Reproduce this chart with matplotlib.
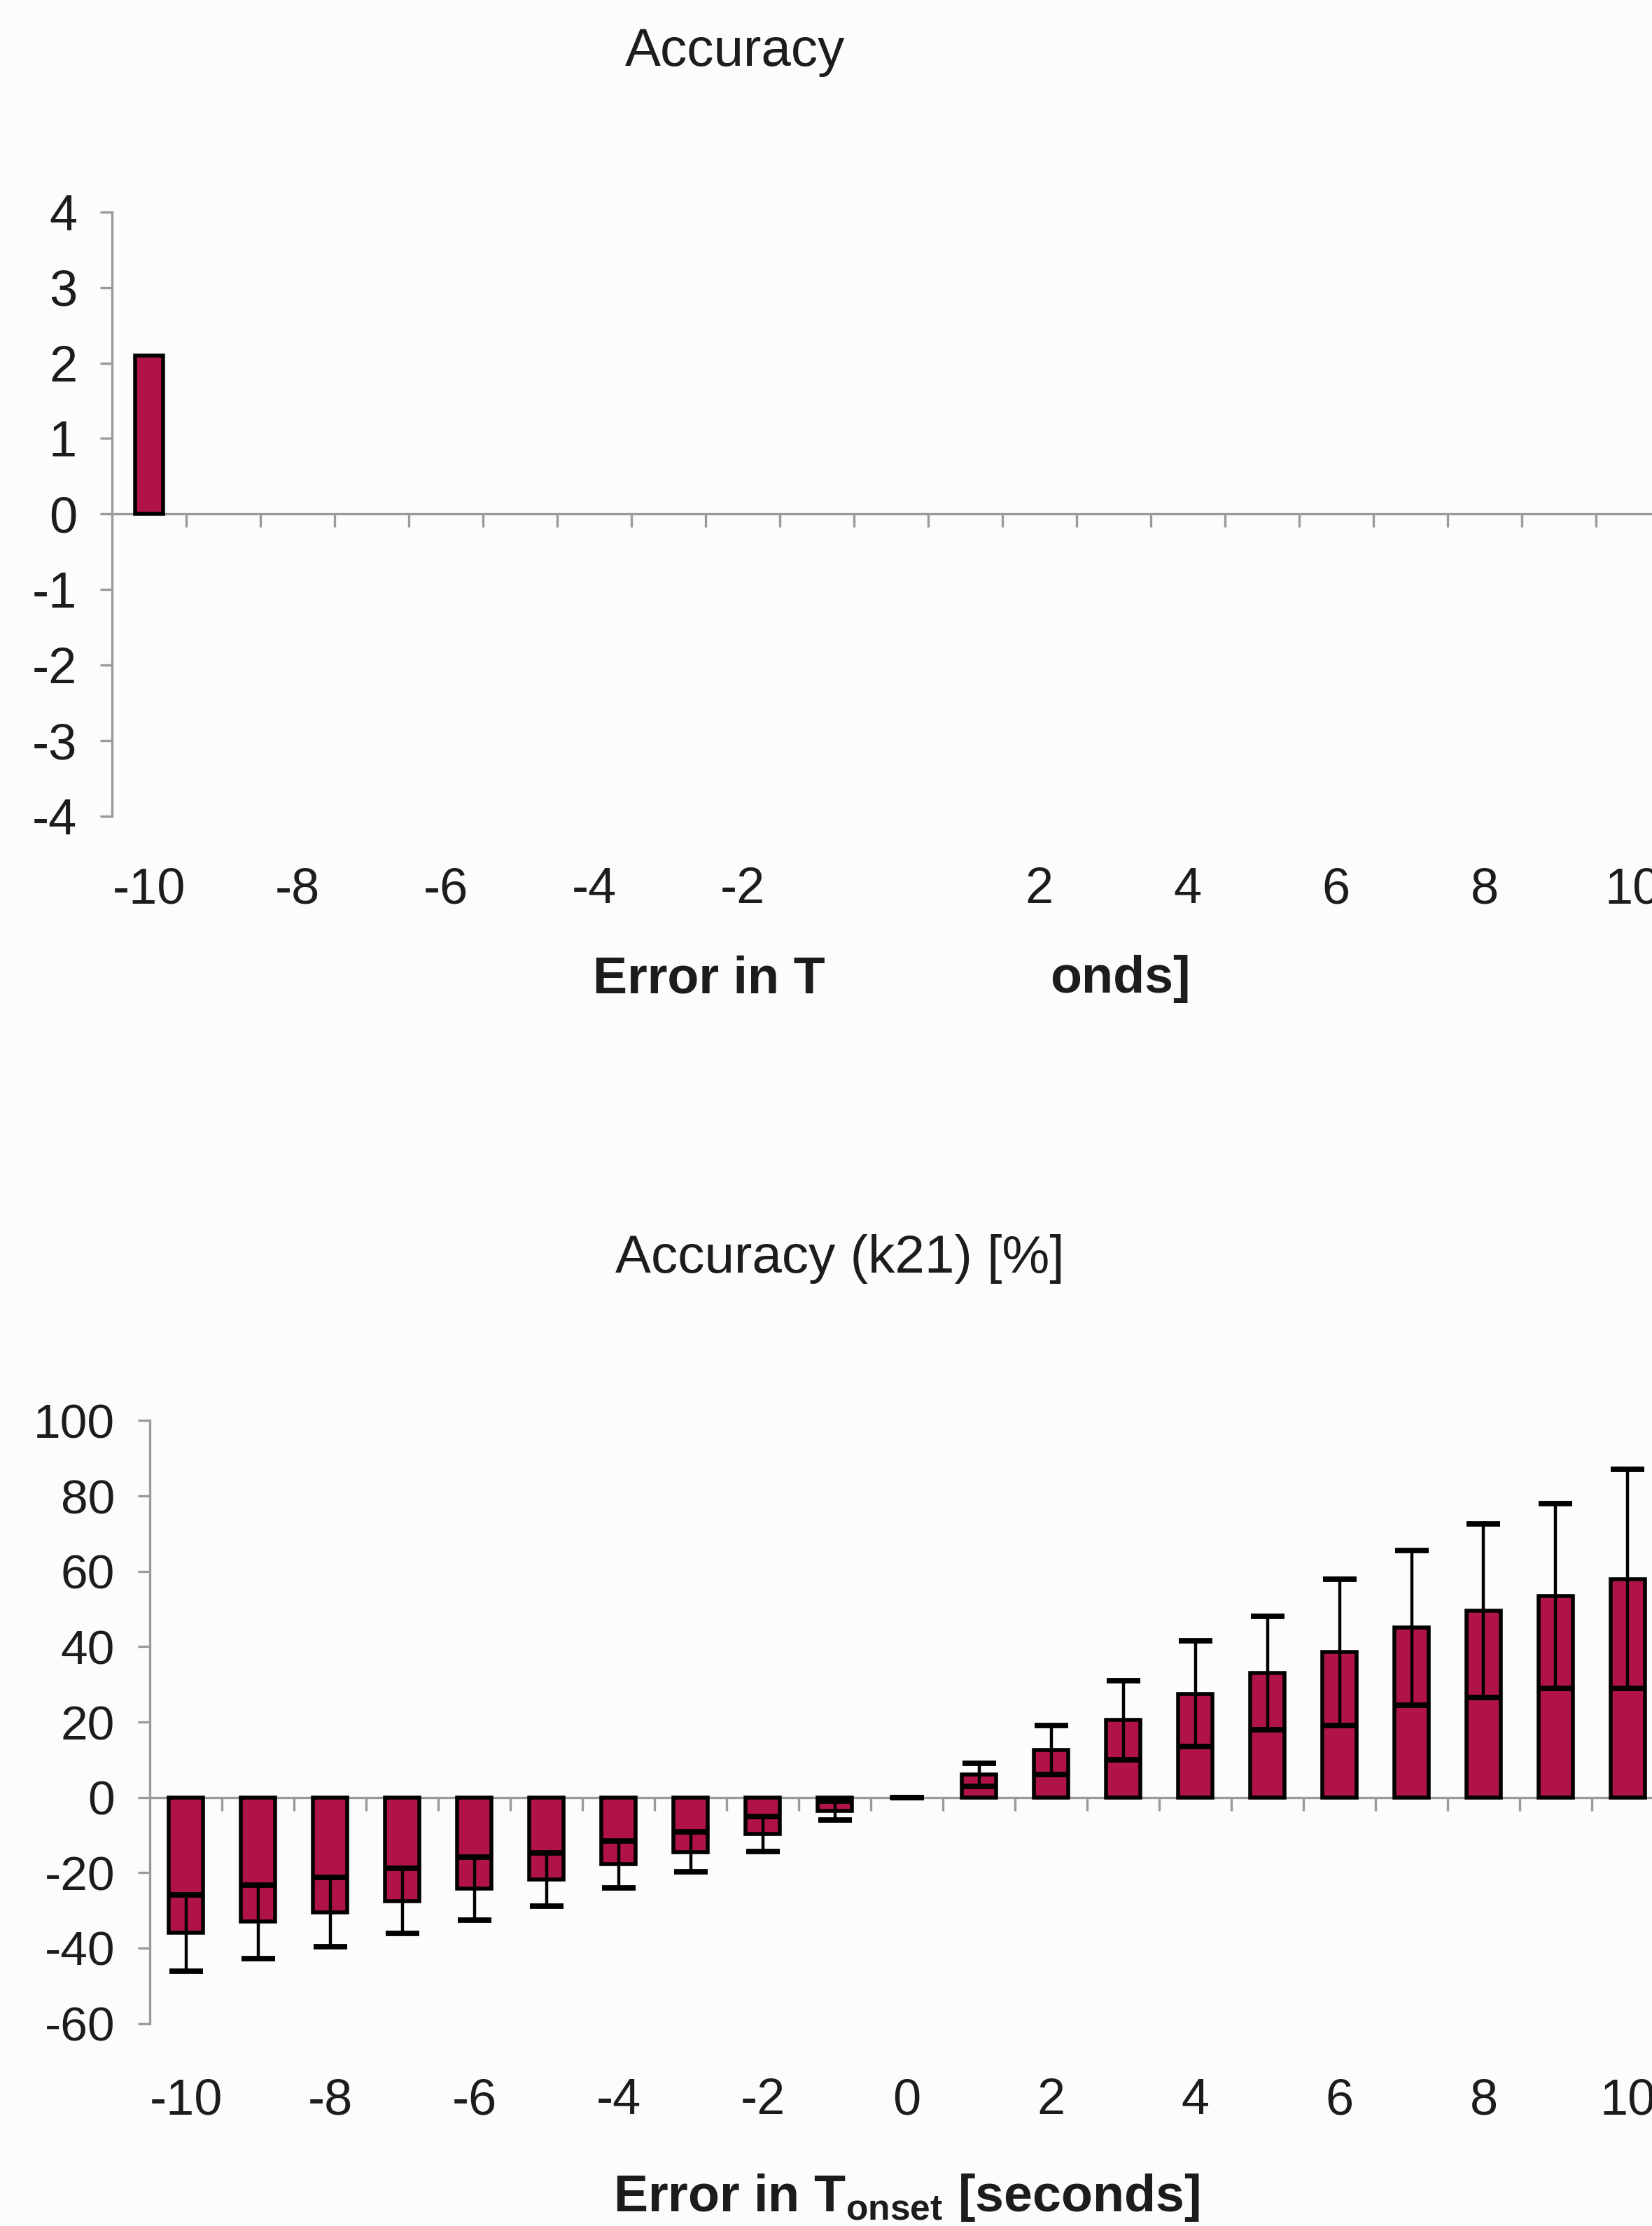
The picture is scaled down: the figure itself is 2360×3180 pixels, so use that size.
import matplotlib
matplotlib.use("Agg")
import matplotlib.pyplot as plt
import numpy as np

plt.rcParams['font.family'] = ['Liberation Sans', 'DejaVu Sans']
plt.rcParams['mathtext.fontset'] = 'custom'
plt.rcParams['mathtext.rm'] = 'Liberation Sans'
plt.rcParams['mathtext.bf'] = 'Liberation Sans:bold'
plt.rcParams['axes.unicode_minus'] = False

# categories: error in T_onset [s]
categories = [-10, -9, -8, -7, -6, -5, -4, -3, -2, -1, 0,
              1, 2, 3, 4, 5, 6, 7, 8, 9, 10]
tick_labels_top = ['-10', '', '-8', '', '-6', '', '-4', '', '-2', '', '',
                   '', '2', '', '4', '', '6', '', '8', '', '10']
tick_labels_bottom = ['-10', '', '-8', '', '-6', '', '-4', '', '-2', '', '0',
                      '', '2', '', '4', '', '6', '', '8', '', '10']

# top panel: only one bar present
acc_cats = [-10]
acc_values = [2.1]

# bottom panel: accuracy of k21 [%], mean and sd
k21_mean = [-36, -33, -30.5, -27.5, -24.2, -21.8, -17.8, -14.5, -9.7, -3.5, 0,
            6, 12.5, 20.5, 27.5, 33, 38.5, 45, 49.5, 53.5, 58]
k21_sd = [10.2, 9.8, 9.2, 8.6, 8.3, 7.0, 6.2, 5.3, 4.6, 2.5, 0,
          3, 6.5, 10.5, 14, 15, 19.5, 20.5, 23, 24.5, 29]

BAR = '#b0124a'
AXC = '#9a9a9a'
TXT = '#1c1c1c'
BG = '#fcfcfc'

fig = plt.figure(figsize=(11.8, 15.9), dpi=200, facecolor=BG)

pos = {c: i for i, c in enumerate(categories)}
bounds = np.arange(len(categories) - 1) + 0.5


def style_axes(ax, ylim, yticks, ylab_size, xlab_pad):
    ax.set_facecolor(BG)
    ax.set_xlim(-0.5, len(categories) - 0.5)
    ax.set_ylim(*ylim)
    for s in ['top', 'right']:
        ax.spines[s].set_visible(False)
    ax.spines['left'].set_color(AXC)
    ax.spines['left'].set_linewidth(1.2)
    ax.spines['bottom'].set_position(('data', 0))
    ax.spines['bottom'].set_color(AXC)
    ax.spines['bottom'].set_linewidth(1.2)
    ax.set_yticks(yticks)
    ax.tick_params(axis='y', direction='out', length=6, width=1.2, color=AXC,
                   labelsize=ylab_size, labelcolor=TXT, pad=12)
    ax.set_xticks(bounds)
    ax.tick_params(axis='x', direction='out', length=7, width=1.2, color=AXC,
                   labelbottom=False)
    sec = ax.secondary_xaxis(0.0)
    sec.spines['bottom'].set_visible(False)
    sec.tick_params(length=0, pad=xlab_pad, labelsize=26, labelcolor=TXT)
    return sec


# ---- top panel
ax1 = fig.add_axes([0.0678, 0.6333, 0.943, 0.2715])
ax1.bar([pos[c] for c in acc_cats], acc_values, width=0.38, color=BAR,
        edgecolor='black', linewidth=2, zorder=3)
sec1 = style_axes(ax1, (-4, 4), np.arange(-4, 5, 1), 26, 26)
sec1.set_xticks(range(len(categories)), tick_labels_top)

fig.text(1050 / 2360, 1 - 75 / 3180, 'Accuracy', ha='center', va='center',
         fontsize=27.5, color=TXT)
fig.text(847 / 2360, 1 - 1399 / 3180, 'Error in T', ha='left', va='center',
         fontsize=26.5, fontweight='bold', color=TXT)
fig.text(1500 / 2360, 1 - 1399 / 3180, 'onds]', ha='left', va='center',
         fontsize=26.5, fontweight='bold', color=TXT)

# ---- bottom panel
ax2 = fig.add_axes([0.0907, 0.0910, 0.9165, 0.2708])
x = [pos[c] for c in categories]
ax2.bar(x, k21_mean, width=0.47, color=BAR, edgecolor='black', linewidth=2,
        zorder=3)
ax2.errorbar(x, k21_mean, yerr=k21_sd, fmt='none', ecolor='black',
             elinewidth=1.6, capsize=8.5, capthick=2.8, zorder=4)
sec2 = style_axes(ax2, (-60, 100), np.arange(-60, 101, 20), 25, 28)
sec2.set_xticks(range(len(categories)), tick_labels_bottom)

fig.text(1200 / 2360, 1 - 1798 / 3180, 'Accuracy (k21) [%]', ha='center',
         va='center', fontsize=27.5, color=TXT)
fig.text(1295 / 2360, 1 - 3139 / 3180, r'Error in T$_\mathbf{onset}$ [seconds]',
         ha='center', va='center', fontsize=26.5, fontweight='bold', color=TXT)

fig.savefig('out.png', dpi=200, facecolor=BG)
